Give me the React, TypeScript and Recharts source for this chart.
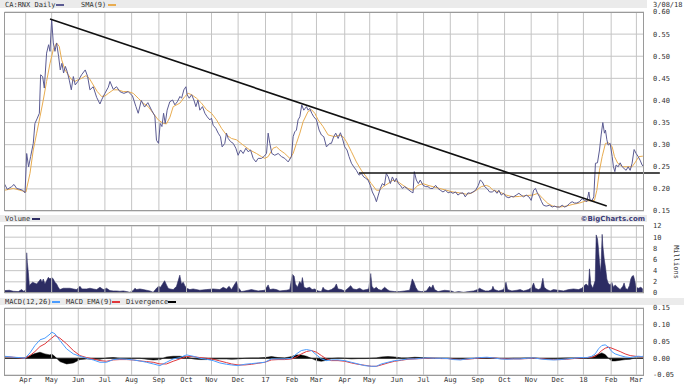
import React from 'react';
import { ComposedChart, Line, Area, XAxis, YAxis, CartesianGrid, ReferenceLine } from 'recharts';

// x axis = trading days since 3/08/16
const monthTicks = [16.7, 37.2, 58.2, 79.2, 100.3, 121.8, 143.6, 163.3, 184.3, 205.9, 226.8, 246.1, 268.4, 288.1, 309.6, 330.6, 351.7, 373.4, 394.5, 415.5, 436.5, 456.7, 478.6, 498.5];
const monthLabels = ['Apr', 'May', 'Jun', 'Jul', 'Aug', 'Sep', 'Oct', 'Nov', 'Dec', '17', 'Feb', 'Mar', 'Apr', 'May', 'Jun', 'Jul', 'Aug', 'Sep', 'Oct', 'Nov', 'Dec', '18', 'Feb', 'Mar'];

const priceTicks = [0.15, 0.2, 0.25, 0.3, 0.35, 0.4, 0.45, 0.5, 0.55, 0.6];
const volumeTicks = [0, 2, 4, 6, 8, 10, 12];
const macdTicks = [-0.05, 0, 0.05, 0.1, 0.15];

const priceDays = [
  0, 2.2, 5.6, 7.5, 9.6, 12.2, 14.3, 16.2, 17.5, 19.0, 20.6, 22.7, 24.0, 25.9, 27.5, 28.5, 30.1, 31.4, 33.2, 34.8,
  35.9, 37.2, 38.5, 39.8, 41.1, 42.7, 44.0, 45.3, 46.6, 48.0, 49.5, 51.1, 52.7, 54.3, 55.8, 57.9, 60.8, 63.7, 65.6, 67.4,
  70.0, 72.7, 75.3, 76.9, 79.2, 81.9, 83.2, 85.8, 88.4, 91.0, 94.2, 97.6, 101.0, 103.7, 105.5, 107.9, 110.5, 113.1, 116.0, 118.6,
  119.9, 121.5, 122.8, 124.2, 125.5, 126.8, 128.3, 130.4, 132.6, 134.4, 136.3, 138.4, 139.7, 141.5, 143.1, 144.1, 145.7, 147.6, 149.4, 151.0,
  152.6, 154.1, 156.2, 158.1, 159.9, 162.0, 163.3, 164.6, 166.7, 168.6, 170.4, 171.7, 173.8, 175.1, 176.5, 178.3, 180.4, 182.5, 184.3, 186.2,
  188.3, 190.4, 192.2, 194.1, 196.2, 198.3, 200.1, 202.7, 204.6, 206.7, 208.0, 209.3, 210.9, 213.2, 215.9, 218.5, 221.1, 223.8, 226.4, 227.7,
  229.0, 230.3, 231.6, 233.0, 234.5, 236.1, 238.2, 239.5, 240.8, 242.4, 244.0, 246.1, 248.2, 250.0, 251.9, 254.0, 256.6, 257.9, 259.7, 261.3,
  263.2, 265.0, 266.6, 268.4, 270.2, 271.8, 273.7, 275.5, 277.6, 279.7, 281.5, 283.4, 285.0, 286.8, 288.6, 290.2, 292.1, 293.4, 294.9, 296.5,
  298.1, 299.7, 301.2, 302.8, 304.4, 306.0, 307.8, 309.1, 310.7, 312.3, 313.9, 315.7, 317.5, 319.1, 321.0, 322.3, 323.3, 324.9, 326.5, 328.0,
  330.2, 332.3, 334.1, 335.9, 338.0, 340.1, 342.0, 343.8, 345.9, 348.0, 349.9, 351.7, 353.8, 355.9, 357.7, 359.6, 361.7, 363.5, 365.6, 367.5,
  369.6, 371.7, 373.8, 375.3, 376.9, 378.8, 380.6, 382.7, 384.8, 386.6, 388.5, 390.0, 391.9, 393.7, 395.8, 397.9, 399.8, 401.6, 403.7, 405.8,
  407.6, 409.5, 411.6, 413.7, 415.5, 417.4, 418.9, 420.5, 422.1, 423.7, 425.2, 427.3, 430.0, 432.1, 433.9, 435.8, 437.9, 440.0, 441.8, 443.6,
  445.7, 447.8, 449.7, 451.5, 453.6, 455.7, 457.6, 459.4, 461.0, 462.0, 463.6, 464.9, 466.2, 467.8, 469.4, 470.7, 472.0, 473.3, 474.1, 475.2,
  476.2, 477.8, 479.4, 480.4, 481.5, 482.5, 484.1, 485.7, 487.3, 488.8, 490.4, 492.0, 493.6, 495.1, 496.7, 498.3, 499.9, 501.4, 503.0, 504.3,
];
const priceClose = [
  0.211, 0.199, 0.205, 0.210, 0.201, 0.199, 0.197, 0.191, 0.280, 0.250, 0.273, 0.303, 0.348, 0.360, 0.371, 0.458, 0.454, 0.428, 0.507, 0.526,
  0.511, 0.583, 0.530, 0.511, 0.530, 0.499, 0.469, 0.484, 0.462, 0.477, 0.465, 0.446, 0.424, 0.454, 0.435, 0.443, 0.458, 0.469, 0.454, 0.424,
  0.431, 0.407, 0.392, 0.403, 0.416, 0.430, 0.443, 0.425, 0.431, 0.420, 0.416, 0.420, 0.410, 0.386, 0.371, 0.400, 0.385, 0.395, 0.378, 0.365,
  0.310, 0.303, 0.348, 0.341, 0.371, 0.348, 0.378, 0.397, 0.401, 0.390, 0.397, 0.409, 0.405, 0.424, 0.431, 0.413, 0.405, 0.413, 0.401, 0.386,
  0.401, 0.378, 0.386, 0.371, 0.363, 0.356, 0.360, 0.344, 0.337, 0.326, 0.318, 0.295, 0.303, 0.326, 0.314, 0.307, 0.303, 0.292, 0.276, 0.288,
  0.280, 0.292, 0.284, 0.288, 0.269, 0.261, 0.269, 0.269, 0.273, 0.280, 0.326, 0.303, 0.280, 0.276, 0.280, 0.273, 0.269, 0.261, 0.273, 0.318,
  0.329, 0.333, 0.356, 0.363, 0.390, 0.378, 0.386, 0.378, 0.382, 0.371, 0.363, 0.356, 0.333, 0.322, 0.318, 0.295, 0.303, 0.303, 0.318, 0.326,
  0.314, 0.327, 0.314, 0.295, 0.288, 0.273, 0.258, 0.250, 0.242, 0.231, 0.235, 0.227, 0.224, 0.220, 0.208, 0.193, 0.182, 0.171, 0.186, 0.201,
  0.212, 0.208, 0.235, 0.227, 0.212, 0.227, 0.216, 0.224, 0.212, 0.208, 0.201, 0.205, 0.201, 0.197, 0.193, 0.191, 0.239, 0.220, 0.212, 0.220,
  0.208, 0.205, 0.205, 0.201, 0.201, 0.208, 0.201, 0.197, 0.193, 0.197, 0.191, 0.193, 0.190, 0.193, 0.186, 0.190, 0.191, 0.182, 0.191, 0.190,
  0.193, 0.197, 0.208, 0.220, 0.216, 0.205, 0.201, 0.193, 0.193, 0.197, 0.190, 0.197, 0.186, 0.190, 0.182, 0.180, 0.183, 0.182, 0.186, 0.190,
  0.186, 0.182, 0.186, 0.182, 0.174, 0.197, 0.201, 0.190, 0.182, 0.171, 0.163, 0.161, 0.163, 0.159, 0.161, 0.159, 0.159, 0.163, 0.159, 0.161,
  0.167, 0.171, 0.168, 0.168, 0.171, 0.178, 0.174, 0.171, 0.193, 0.174, 0.174, 0.182, 0.258, 0.259, 0.288, 0.322, 0.350, 0.326, 0.333, 0.311,
  0.299, 0.303, 0.273, 0.250, 0.239, 0.254, 0.250, 0.259, 0.250, 0.246, 0.242, 0.250, 0.242, 0.258, 0.289, 0.280, 0.273, 0.265, 0.254, 0.250,
];

const smaDays = [
  0.1, 7.0, 12.2, 16.9, 20.1, 22.7, 25.4, 28.0, 30.6, 33.2, 35.9, 38.5, 41.1, 43.2, 45.1, 47.7, 50.3, 52.9, 55.6, 58.2,
  60.8, 64.2, 66.9, 70.0, 73.2, 76.6, 79.2, 81.9, 85.8, 89.7, 93.7, 97.6, 101.6, 105.5, 109.4, 113.4, 117.3, 121.3, 125.2, 127.8,
  130.5, 133.1, 138.4, 142.3, 144.9, 147.6, 151.5, 155.4, 159.4, 163.3, 167.3, 171.2, 175.1, 179.1, 183.0, 188.3, 193.5, 198.8, 202.7, 205.4,
  208.0, 211.9, 214.6, 217.2, 221.1, 225.1, 227.7, 230.3, 233.0, 235.6, 239.5, 242.2, 244.8, 247.4, 251.3, 255.3, 260.5, 264.5, 267.1, 269.7,
  273.7, 277.6, 281.5, 285.5, 289.4, 293.4, 296.0, 298.6, 302.6, 306.5, 310.4, 314.4, 318.3, 322.3, 326.2, 330.1, 334.1, 338.0, 343.3, 348.5,
  353.8, 359.1, 364.3, 368.2, 372.2, 376.1, 380.1, 382.7, 385.3, 390.6, 395.8, 401.1, 406.3, 411.6, 416.8, 420.8, 424.7, 428.7, 432.6, 437.9,
  443.1, 448.4, 453.6, 458.9, 462.8, 465.4, 467.3, 469.4, 471.5, 474.1, 476.7, 479.4, 481.2, 483.8, 487.8, 491.7, 495.1, 497.8, 500.4, 503.6,
];
const sma = [
  0.197, 0.201, 0.197, 0.193, 0.235, 0.288, 0.326, 0.363, 0.401, 0.443, 0.484, 0.515, 0.530, 0.522, 0.492, 0.469, 0.458, 0.447, 0.443, 0.447,
  0.450, 0.456, 0.450, 0.435, 0.420, 0.409, 0.410, 0.416, 0.424, 0.424, 0.420, 0.420, 0.416, 0.405, 0.394, 0.386, 0.371, 0.356, 0.348, 0.347,
  0.362, 0.386, 0.394, 0.409, 0.416, 0.413, 0.405, 0.394, 0.379, 0.371, 0.356, 0.337, 0.322, 0.314, 0.311, 0.299, 0.288, 0.280, 0.273, 0.269,
  0.273, 0.292, 0.295, 0.288, 0.280, 0.269, 0.280, 0.303, 0.326, 0.352, 0.375, 0.379, 0.371, 0.356, 0.341, 0.322, 0.318, 0.322, 0.318, 0.307,
  0.284, 0.261, 0.242, 0.227, 0.212, 0.197, 0.197, 0.205, 0.212, 0.220, 0.216, 0.208, 0.201, 0.197, 0.208, 0.212, 0.208, 0.205, 0.201, 0.197,
  0.193, 0.191, 0.188, 0.190, 0.197, 0.205, 0.208, 0.205, 0.197, 0.193, 0.186, 0.182, 0.183, 0.185, 0.186, 0.190, 0.178, 0.167, 0.161, 0.159,
  0.161, 0.165, 0.168, 0.173, 0.173, 0.174, 0.197, 0.242, 0.273, 0.303, 0.304, 0.295, 0.273, 0.258, 0.250, 0.250, 0.250, 0.261, 0.273, 0.274,
];

// volume in millions
const volDays = [
  0.1, 3.8, 7.0, 10.9, 13.5, 15.4, 16.9, 17.5, 18.0, 18.8, 19.6, 20.6, 22.2, 24.0, 25.4, 27.5, 28.5, 29.6, 30.6, 31.9,
  33.2, 34.6, 35.9, 37.2, 38.5, 39.8, 41.1, 42.4, 43.7, 46.4, 49.0, 51.6, 54.3, 56.9, 59.5, 61.1, 64.8, 67.4, 70.0, 72.7,
  75.3, 77.9, 80.5, 83.2, 85.8, 88.4, 91.0, 93.7, 96.3, 98.9, 101.5, 102.9, 104.2, 106.8, 109.4, 112.1, 114.7, 117.3, 119.9, 121.5,
  123.1, 124.7, 126.3, 127.8, 129.1, 130.5, 133.1, 135.7, 137.0, 138.3, 139.6, 141.0, 142.3, 143.6, 146.2, 148.8, 154.1, 159.3, 164.6, 169.9,
  172.5, 175.1, 177.2, 179.1, 181.7, 183.0, 184.3, 186.9, 189.6, 192.2, 194.8, 197.4, 200.1, 202.7, 205.3, 208.0, 209.3, 211.9, 214.5, 217.2,
  219.8, 222.4, 225.0, 227.1, 228.5, 229.5, 231.1, 232.9, 234.2, 235.0, 236.3, 238.2, 240.8, 242.6, 244.7, 247.4, 250.0, 251.3, 252.6, 255.3,
  257.9, 260.5, 261.8, 263.1, 265.8, 268.4, 271.0, 273.1, 275.0, 277.6, 280.2, 282.8, 285.5, 287.3, 288.9, 289.9, 291.5, 293.3, 295.2, 297.3,
  299.9, 302.0, 303.9, 307.8, 311.7, 315.7, 319.6, 321.7, 323.0, 324.4, 326.2, 328.8, 332.8, 335.4, 336.7, 338.0, 339.3, 342.0, 347.2, 352.5,
  355.1, 358.2, 362.2, 366.1, 370.1, 373.2, 374.8, 376.6, 379.3, 381.9, 384.5, 385.3, 386.4, 389.8, 393.7, 395.6, 396.9, 400.3, 404.2, 406.8,
  409.5, 413.4, 416.0, 417.4, 418.7, 421.3, 423.1, 424.7, 425.8, 427.9, 430.5, 433.1, 437.1, 441.0, 445.0, 448.9, 452.8, 455.5, 457.3, 458.9,
  460.7, 461.5, 462.5, 464.1, 466.0, 466.8, 467.8, 468.6, 469.4, 470.4, 471.5, 472.0, 473.1, 474.1, 475.2, 476.2, 477.8, 479.1, 480.4, 481.7,
  483.6, 485.7, 487.8, 488.8, 489.9, 491.5, 493.0, 494.1, 495.1, 496.2, 497.2, 498.3, 500.1, 502.0, 503.5,
];
const volume = [
  0.43, 0.49, 0.31, 0.25, 0.61, 0.25, 0.73, 7.2, 5.5, 3.7, 1.32, 1.62, 1.93, 1.75, 1.62, 2.2, 2.5, 1.93, 2.5, 1.62,
  2.2, 2.8, 2.5, 2.8, 2.5, 1.93, 1.62, 1.03, 0.61, 0.85, 0.85, 0.85, 0.73, 0.61, 1.2, 0.73, 0.73, 0.85, 0.73, 0.61,
  1.03, 0.61, 0.85, 0.43, 0.37, 0.37, 0.31, 0.37, 0.25, 0.13, 0.43, 0.85, 0.61, 0.73, 0.61, 0.49, 0.37, 0.13, 0.85, 1.2,
  1.03, 1.62, 2.2, 1.45, 0.85, 0.73, 0.61, 1.2, 2.2, 3.2, 1.62, 1.93, 1.32, 0.85, 0.61, 0.73, 0.49, 0.61, 0.73, 0.61,
  1.03, 0.73, 1.2, 0.61, 1.62, 2.04, 1.03, 0.25, 0.37, 0.49, 0.61, 0.49, 0.37, 0.43, 0.49, 1.45, 0.61, 0.73, 0.61, 0.37,
  0.43, 0.49, 0.61, 3.36, 3.0, 1.62, 1.03, 2.04, 1.62, 2.76, 1.03, 0.85, 1.03, 0.61, 0.73, 0.37, 0.25, 1.03, 0.61, 0.43,
  0.61, 1.03, 1.62, 0.73, 0.61, 0.37, 0.85, 1.32, 0.73, 0.61, 0.85, 0.49, 0.61, 0.73, 3.48, 1.2, 0.73, 1.03, 0.61, 0.49,
  1.03, 0.61, 0.37, 0.25, 0.25, 0.37, 0.49, 2.52, 1.92, 1.03, 0.37, 0.25, 0.37, 1.2, 0.85, 1.45, 0.61, 0.25, 0.49, 0.37,
  0.13, 0.25, 0.13, 0.25, 0.37, 0.61, 0.85, 0.61, 0.37, 0.37, 0.61, 1.2, 0.61, 0.37, 0.61, 1.92, 0.61, 0.37, 0.49, 0.61,
  0.37, 0.61, 1.03, 1.8, 0.85, 0.61, 0.85, 2.64, 1.03, 0.61, 0.37, 0.61, 0.49, 0.37, 0.61, 0.73, 0.61, 0.85, 1.32, 1.62,
  1.2, 4.32, 1.62, 0.85, 2.22, 10.4, 9.7, 7.9, 5.5, 3.7, 10.5, 8.5, 6.1, 4.6, 2.5, 1.8, 1.44, 1.92, 1.03, 1.44,
  1.03, 0.61, 1.2, 1.8, 0.85, 0.61, 1.32, 2.52, 3.0, 3.12, 2.22, 1.03, 0.85, 1.03, 0.73,
];

const macdDays = [
  0.1, 7.0, 12.2, 16.2, 20.1, 24.0, 28.0, 31.9, 35.9, 37.2, 39.8, 43.7, 49.0, 54.3, 59.5, 64.8, 70.0, 75.3, 80.5, 85.8,
  91.0, 96.3, 101.5, 106.8, 112.1, 117.3, 122.6, 127.8, 133.1, 138.3, 143.6, 148.8, 154.1, 159.3, 164.6, 169.9, 175.1,
  179.1, 184.3, 189.6, 194.8, 200.1, 205.3, 210.6, 215.8, 221.1, 226.4, 230.3, 234.2, 238.2, 242.1, 246.1, 250.0, 254.0, 257.9, 263.1, 268.4,
  273.6, 278.9, 284.2, 289.4, 293.3, 297.3, 302.5, 307.8, 313.1, 318.3, 323.6, 328.8, 334.1, 339.3, 344.6, 349.8,
  354.3, 359.6, 364.8, 370.1, 375.3, 380.6, 385.8, 391.1, 396.3, 401.6, 406.8, 412.1, 417.4, 422.6, 427.9, 433.1, 438.4, 443.6, 448.9, 454.1,
  459.4, 463.3, 466.0, 468.6, 471.2, 473.9, 476.5, 479.1, 481.7, 485.7, 489.6, 493.6, 497.5, 500.1, 502.8, 504.5,
];
const macdLine = [
  0.006, 0.003, 0.002, 0, 0.016, 0.038, 0.055, 0.060, 0.072, 0.078, 0.073, 0.053, 0.028, 0.013, 0.006, 0, -0.005, -0.012, -0.012, -0.004,
  -0.002, -0.003, -0.005, -0.008, -0.012, -0.017, -0.022, -0.012, -0.002, 0.002, 0.010, 0.006, 0, -0.003, -0.007, -0.014, -0.018,
  -0.020, -0.022, -0.018, -0.016, -0.014, -0.012, -0.002, -0.002, -0.002, 0, 0.013, 0.023, 0.026, 0.023, 0.010, -0.002, -0.007, -0.005, -0.005, -0.007,
  -0.012, -0.017, -0.022, -0.024, -0.024, -0.017, -0.012, -0.007, -0.005, -0.002, -0.002, 0, 0.001, 0, 0, -0.001,
  -0.004, -0.005, -0.002, 0, 0.002, 0.003, 0.001, -0.002, -0.003, -0.002, -0.002, 0, 0.001, -0.002, -0.004, -0.005, -0.004, -0.002, 0, 0.002,
  0.002, 0.006, 0.013, 0.028, 0.038, 0.040, 0.033, 0.020, 0.013, 0.008, 0.004, 0.002, 0.005, 0.006, 0.005, 0.007,
];
const macdSignal = [
  0.005, 0.003, 0.001, 0, 0.008, 0.020, 0.035, 0.043, 0.056, 0.060, 0.068, 0.060, 0.043, 0.023, 0.008, 0.002, -0.002, -0.007, -0.009, -0.005,
  -0.004, -0.004, -0.005, -0.008, -0.010, -0.012, -0.017, -0.017, -0.009, -0.002, 0.005, 0.005, 0.002, 0, -0.003, -0.008, -0.013,
  -0.017, -0.020, -0.020, -0.018, -0.015, -0.012, -0.005, -0.004, -0.004, -0.002, 0.004, 0.013, 0.020, 0.023, 0.018, 0.008, -0.002, -0.007, -0.007, -0.009,
  -0.014, -0.018, -0.021, -0.024, -0.024, -0.020, -0.014, -0.009, -0.006, -0.003, -0.002, -0.001, 0, 0, -0.001, -0.001,
  -0.003, -0.004, -0.003, -0.001, 0.001, 0.002, 0.001, -0.001, -0.002, -0.002, -0.002, -0.001, 0, -0.001, -0.003, -0.004, -0.004, -0.003, -0.001, 0.001,
  0.002, 0.003, 0.006, 0.014, 0.023, 0.030, 0.033, 0.030, 0.026, 0.020, 0.013, 0.008, 0.006, 0.005, 0.004, 0.006,
];
const macdDivergence = [
  0.001, 0, 0, 0.001, 0.008, 0.014, 0.018, 0.013, 0.010, 0.013, 0.005, -0.010, -0.017, -0.014, -0.004, -0.002, -0.003, -0.003, 0.001, 0.002,
  0, 0, 0, 0, -0.003, -0.005, -0.004, 0.004, 0.006, 0.006, 0.004, -0.002, -0.004, -0.004, -0.003, -0.002, -0.002,
  -0.003, -0.002, 0, 0.001, 0.001, 0.002, 0.005, 0.002, 0.001, 0.005, 0.010, 0.010, 0.006, 0, -0.007, -0.009, -0.006, -0.001, 0.001, 0,
  -0.002, -0.001, -0.001, 0, 0.001, 0.004, 0.005, 0.004, 0.001, 0.001, 0.003, 0.002, 0.001, 0, 0, 0,
  -0.001, -0.001, -0.001, -0.001, 0.001, 0.001, 0, -0.001, -0.001, 0, 0, 0.001, 0.001, -0.001, -0.001, -0.001, 0, 0.001, 0.001, 0.001,
  0, 0.003, 0.008, 0.012, 0.016, 0.011, 0, -0.008, -0.008, -0.006, -0.004, -0.003, 0.001, 0.001, 0.001, 0.001,
];

const priceRows = priceDays.map((t, i) => ({ t, close: priceClose[i] }));
const smaRows = smaDays.map((t, i) => ({ t, sma: sma[i] }));
const volRows = volDays.map((t, i) => ({ t, vol: volume[i] }));
const macdRows = macdDays.map((t, i) => ({ t, macd: macdLine[i], signal: macdSignal[i], div: macdDivergence[i] }));

const X_DOMAIN: [number, number] = [0, 504.5];
const MARGIN = { left: 4.5, right: 4 };
const FONT = "'DejaVu Sans Mono', monospace";
const tickStyle = { fontSize: 7, fill: '#333', fontFamily: FONT };
const gridColor = '#c4c4c4';
const frameColor = '#9a9a9a';

const monthLabel = (v: number) => {
  const i = monthTicks.indexOf(v);
  return i >= 0 ? monthLabels[i] : '';
};

const abs = (left: number, top: number, extra: React.CSSProperties = {}): React.CSSProperties => ({
  position: 'absolute',
  left,
  top,
  ...extra,
});

const label = (text: string, left: number, top: number, extra: React.CSSProperties = {}) => (
  <div style={abs(left, top, { fontFamily: FONT, fontSize: 7, lineHeight: '8px', color: '#333', whiteSpace: 'nowrap', ...extra })}>{text}</div>
);

const swatch = (left: number, top: number, color: string) => (
  <div style={abs(left, top, { width: 8, height: 2, background: color })} />
);

const silentX = (
  <XAxis type="number" dataKey="t" domain={X_DOMAIN} ticks={monthTicks} interval={0} allowDataOverflow height={0} tick={false} axisLine={false} tickLine={false} />
);

// vertical month grid lines
const monthGrid = monthTicks.map((t) => (
  <ReferenceLine key={`m${t}`} x={t} stroke={gridColor} strokeWidth={1} ifOverflow="visible" />
));

export default function App() {
  return (
    <div style={{ position: 'absolute', left: 0, top: 0, width: 684, height: 385, background: '#fff', overflow: 'hidden' }}>
      {/* header bands */}
      <div style={abs(0, 0, { width: 647, height: 8, background: '#ebebeb' })} />
      <div style={abs(0, 215, { width: 647, height: 7, background: '#ebebeb' })} />
      <div style={abs(0, 298, { width: 684, height: 7, background: '#ebebeb' })} />

      {label('CA:RNX Daily', 5, 1)}
      {swatch(56, 4, '#5b5b92')}
      {label('SMA(9)', 81, 1)}
      {swatch(108, 4, '#e8ac50')}
      {label('3/08/18', 653, 1)}

      {label('Volume', 5, 215)}
      {swatch(32, 218, '#2d2d63')}
      <div style={abs(520, 214.5, { width: 125, textAlign: 'right', fontFamily: "'DejaVu Sans', sans-serif", fontWeight: 'bold', fontSize: 7, lineHeight: '8px', color: '#3c3c78' })}>©BigCharts.com</div>

      {label('MACD(12,26)', 5, 298)}
      {swatch(52, 301, '#4a9cff')}
      {label('MACD EMA(9)', 66, 298)}
      {swatch(112, 301, '#e0383c')}
      {label('Divergence', 126, 298)}
      {swatch(168, 301, '#000')}

      <div style={abs(676, 262, { fontFamily: FONT, fontSize: 7, color: '#333', transform: 'translate(-50%, -50%) rotate(90deg)', whiteSpace: 'nowrap' })}>Millions</div>

      {/* price panel */}
      <div style={abs(0, 0)}>
        <ComposedChart width={684} height={222} margin={{ top: 12, bottom: 11, ...MARGIN }}>
          <CartesianGrid stroke={gridColor} vertical={false} />
          {silentX}
          <YAxis orientation="right" type="number" domain={[0.15, 0.6]} ticks={priceTicks} interval={0} width={36} tickSize={0} tickMargin={9} axisLine={false} tickLine={false} tick={tickStyle} tickFormatter={(v: number) => v.toFixed(2)} />
          {monthGrid}
          <Line data={smaRows} dataKey="sma" type="linear" stroke="#e8ac50" strokeWidth={1} dot={false} isAnimationActive={false} />
          <Line data={priceRows} dataKey="close" type="linear" stroke="#5b5b92" strokeWidth={1} dot={false} isAnimationActive={false} />
          <ReferenceLine segment={[{ x: 35.9, y: 0.584 }, { x: 475.1, y: 0.1615 }]} stroke="#111" strokeWidth={1.6} ifOverflow="visible" />
          <ReferenceLine segment={[{ x: 279.6, y: 0.236 }, { x: 517, y: 0.236 }]} stroke="#111" strokeWidth={1.4} ifOverflow="visible" />
        </ComposedChart>
      </div>
      <div style={abs(4, 12, { width: 640, height: 199, border: `1px solid ${frameColor}`, boxSizing: 'border-box', pointerEvents: 'none' })} />

      {/* volume panel */}
      <div style={abs(0, 212)}>
        <ComposedChart width={684} height={88} margin={{ top: 14, bottom: 7, ...MARGIN }}>
          <CartesianGrid stroke={gridColor} vertical={false} />
          {silentX}
          <YAxis orientation="right" type="number" domain={[0, 12]} ticks={volumeTicks} interval={0} width={36} tickSize={0} tickMargin={9} axisLine={false} tickLine={false} tick={tickStyle} />
          {monthGrid}
          <Area data={volRows} dataKey="vol" type="linear" stroke="#2d2d63" strokeWidth={0.6} fill="#2d2d63" fillOpacity={1} baseValue={0} dot={false} isAnimationActive={false} />
        </ComposedChart>
      </div>
      <div style={abs(4, 225, { width: 640, height: 68, border: `1px solid ${frameColor}`, boxSizing: 'border-box', pointerEvents: 'none' })} />

      {/* MACD panel */}
      <div style={abs(0, 295)}>
        <ComposedChart width={684} height={90} data={macdRows} margin={{ top: 13, bottom: 0, ...MARGIN }}>
          <CartesianGrid stroke={gridColor} vertical={false} />
          <XAxis type="number" dataKey="t" domain={X_DOMAIN} ticks={monthTicks} allowDataOverflow height={10} tickSize={0} tickMargin={2} axisLine={false} tickLine={false} tick={tickStyle} tickFormatter={monthLabel} interval={0} />
          <YAxis orientation="right" type="number" domain={[-0.05, 0.15]} ticks={macdTicks} interval={0} width={36} tickSize={0} tickMargin={9} axisLine={false} tickLine={false} tick={tickStyle} tickFormatter={(v: number) => v.toFixed(2)} />
          {monthGrid}
          <Area dataKey="div" type="linear" stroke="#000" strokeWidth={0.5} fill="#000" fillOpacity={1} baseValue={0} dot={false} isAnimationActive={false} />
          <ReferenceLine y={0} stroke="#222" strokeWidth={1} />
          <Line dataKey="signal" type="linear" stroke="#e0383c" strokeWidth={1} dot={false} isAnimationActive={false} />
          <Line dataKey="macd" type="linear" stroke="#4a9cff" strokeWidth={1} dot={false} isAnimationActive={false} />
        </ComposedChart>
      </div>
      <div style={abs(4, 308, { width: 640, height: 68, border: `1px solid ${frameColor}`, boxSizing: 'border-box', pointerEvents: 'none' })} />
    </div>
  );
}
